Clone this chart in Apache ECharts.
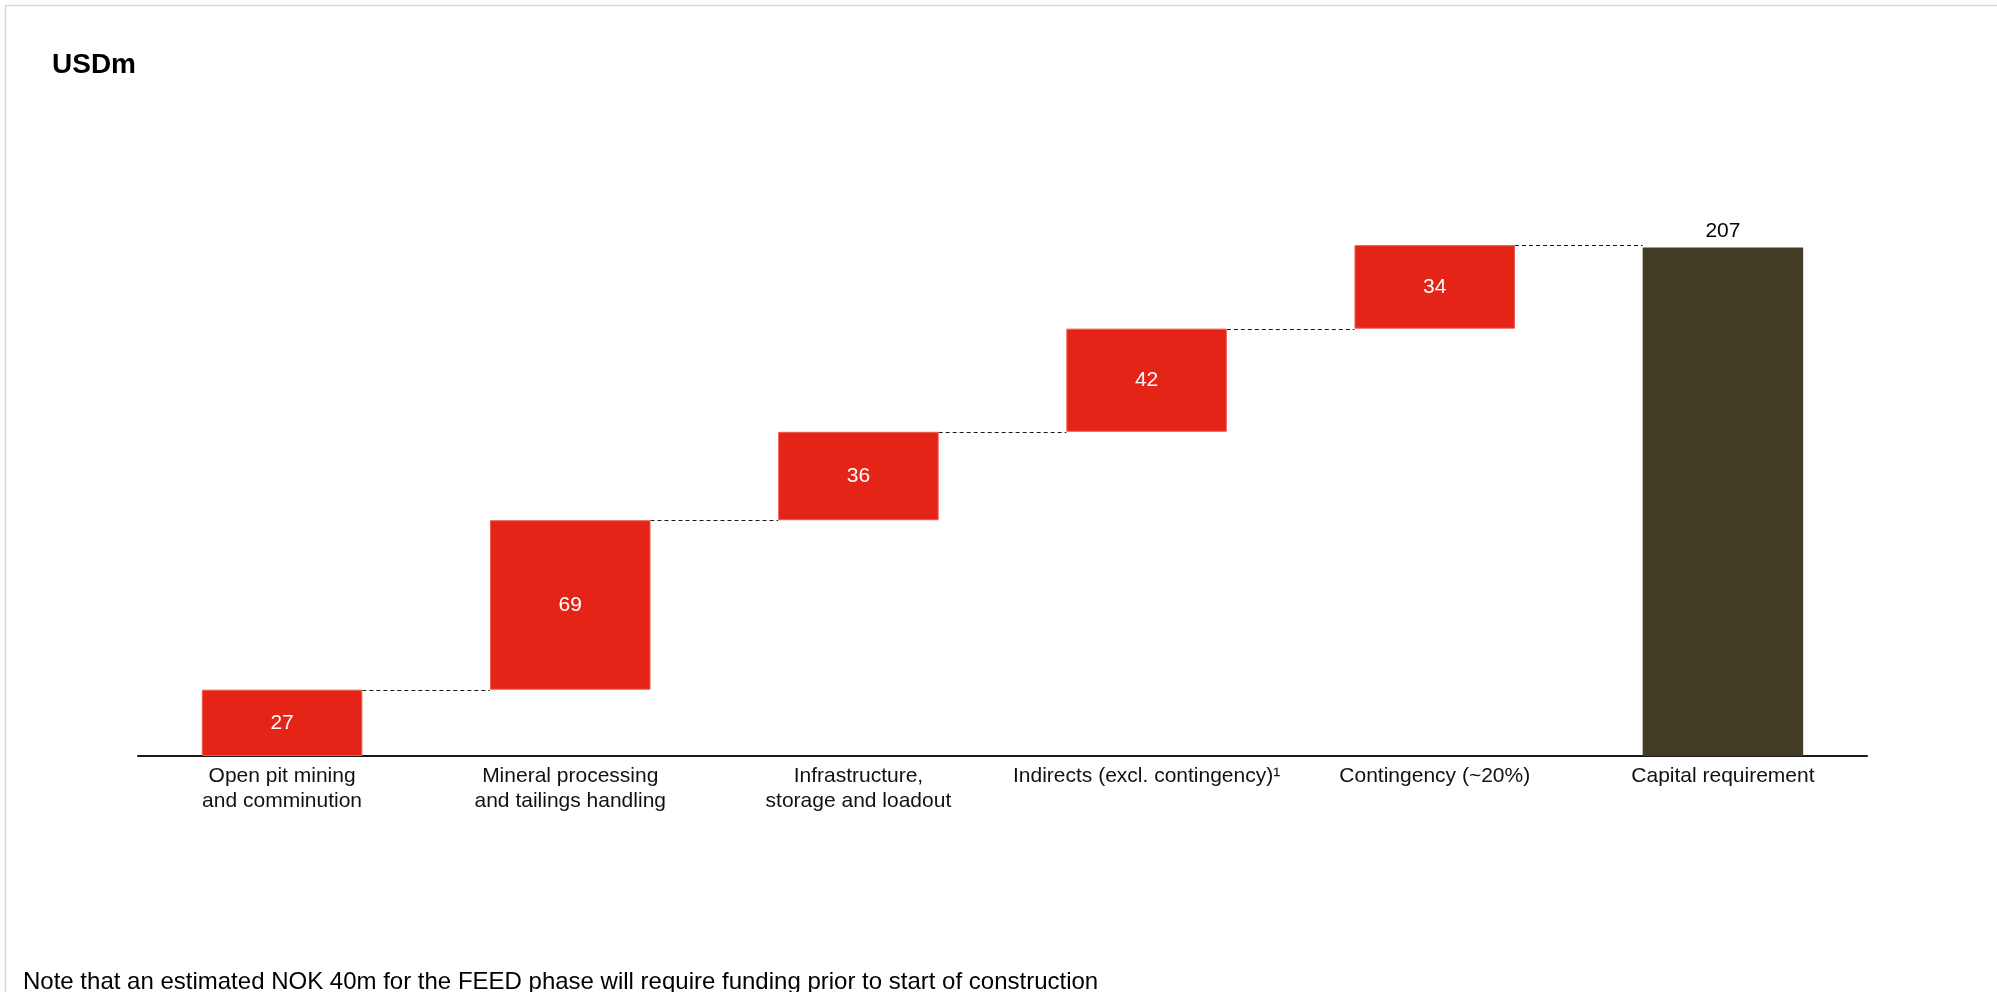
<!DOCTYPE html>
<html>
<head>
<meta charset="utf-8">
<title>Capital requirement bridge</title>
<script src="https://cdn.jsdelivr.net/npm/echarts@6/dist/echarts.min.js"></script>
<style>
  html, body { margin: 0; padding: 0; background: #ffffff; }
  #chart { width: 1997px; height: 992px; }
</style>
</head>
<body>
<div id="chart"></div>
<script>
// Cost components (USDm) building up to the total capital requirement
const categories = [
  'Open pit mining\nand comminution',
  'Mineral processing\nand tailings handling',
  'Infrastructure,\nstorage and loadout',
  'Indirects (excl. contingency)\u00B9',
  'Contingency (~20%)',
  'Capital requirement'
];
const stepValues = [27, 69, 36, 42, 34];
const totalValue = 207;
const unitLabel = 'USDm';
const noteText = 'Note that an estimated NOK 40m for the FEED phase will require funding prior to start of construction';

const FONT = '"Liberation Sans", Arial, Helvetica, sans-serif';
const STEP_COLOR = '#E32416';
const STEP_BORDER = '#EE5A4F';
const TOTAL_COLOR = '#433D26';
const BAR_RATIO = 0.557;

// Each step floats on the running sum of the ones before it
const bases = [];
let running = 0;
stepValues.forEach(v => { bases.push(running); running += v; });
const levels = stepValues.map((v, i) => bases[i] + v);

const baseData = bases.concat([0]);
const barData = stepValues.map(v => ({ value: v }));
barData.push({
  value: totalValue,
  itemStyle: { color: TOTAL_COLOR, borderWidth: 0 },
  label: { position: 'top', color: '#000000', distance: 6 }
});

const chart = echarts.init(document.getElementById('chart'), null, { renderer: 'canvas' });

chart.setOption({
  animation: false,
  backgroundColor: '#ffffff',
  textStyle: { fontFamily: FONT },
  grid: { left: 138, width: 1729, top: 142, bottom: 236, containLabel: false },
  xAxis: {
    type: 'category',
    data: categories,
    axisLine: { lineStyle: { color: '#1a1a1a', width: 2 } },
    axisTick: { show: false },
    axisLabel: {
      interval: 0,
      fontFamily: FONT,
      fontSize: 21,
      lineHeight: 25,
      color: '#111111',
      margin: 8
    }
  },
  yAxis: {
    type: 'value',
    min: 0,
    max: 250,
    show: false,
    splitLine: { show: false }
  },
  series: [
    {
      name: 'base',
      type: 'bar',
      stack: 'bridge',
      barWidth: (BAR_RATIO * 100) + '%',
      silent: true,
      itemStyle: { color: 'rgba(0,0,0,0)' },
      data: baseData
    },
    {
      name: 'value',
      type: 'bar',
      stack: 'bridge',
      barWidth: (BAR_RATIO * 100) + '%',
      itemStyle: { color: STEP_COLOR, borderColor: STEP_BORDER, borderWidth: 1 },
      label: {
        show: true,
        position: 'inside',
        color: '#ffffff',
        fontFamily: FONT,
        fontSize: 21
      },
      data: barData
    },
    {
      // dashed connectors between consecutive bar tops
      name: 'connector',
      type: 'custom',
      silent: true,
      encode: { x: 0, y: 1 },
      data: levels.map((l, i) => [i, l]),
      renderItem: function (params, api) {
        const i = api.value(0);
        const lvl = api.value(1);
        const p0 = api.coord([i, lvl]);
        const p1 = api.coord([i + 1, lvl]);
        const hw = api.size([1, 0])[0] * BAR_RATIO / 2;
        const y = Math.round(p0[1]) + 0.5;
        return {
          type: 'line',
          shape: { x1: p0[0] + hw, y1: y, x2: p1[0] - hw, y2: y },
          style: { stroke: '#1a1a1a', lineWidth: 1, lineDash: [4, 3] }
        };
      }
    }
  ],
  graphic: [
    {
      type: 'line',
      silent: true,
      shape: { x1: 5, y1: 5.5, x2: 1997, y2: 5.5 },
      style: { stroke: '#D9D9D9', lineWidth: 1.5 }
    },
    {
      type: 'line',
      silent: true,
      shape: { x1: 5.5, y1: 5, x2: 5.5, y2: 992 },
      style: { stroke: '#D9D9D9', lineWidth: 1.5 }
    },
    {
      type: 'text',
      silent: true,
      x: 52,
      y: 65,
      style: {
        text: unitLabel,
        font: 'bold 28px ' + FONT,
        fill: '#000000',
        verticalAlign: 'middle'
      }
    },
    {
      type: 'text',
      silent: true,
      x: 23,
      y: 982,
      style: {
        text: noteText,
        font: '24px ' + FONT,
        fill: '#000000',
        verticalAlign: 'middle'
      }
    }
  ]
});
</script>
</body>
</html>
